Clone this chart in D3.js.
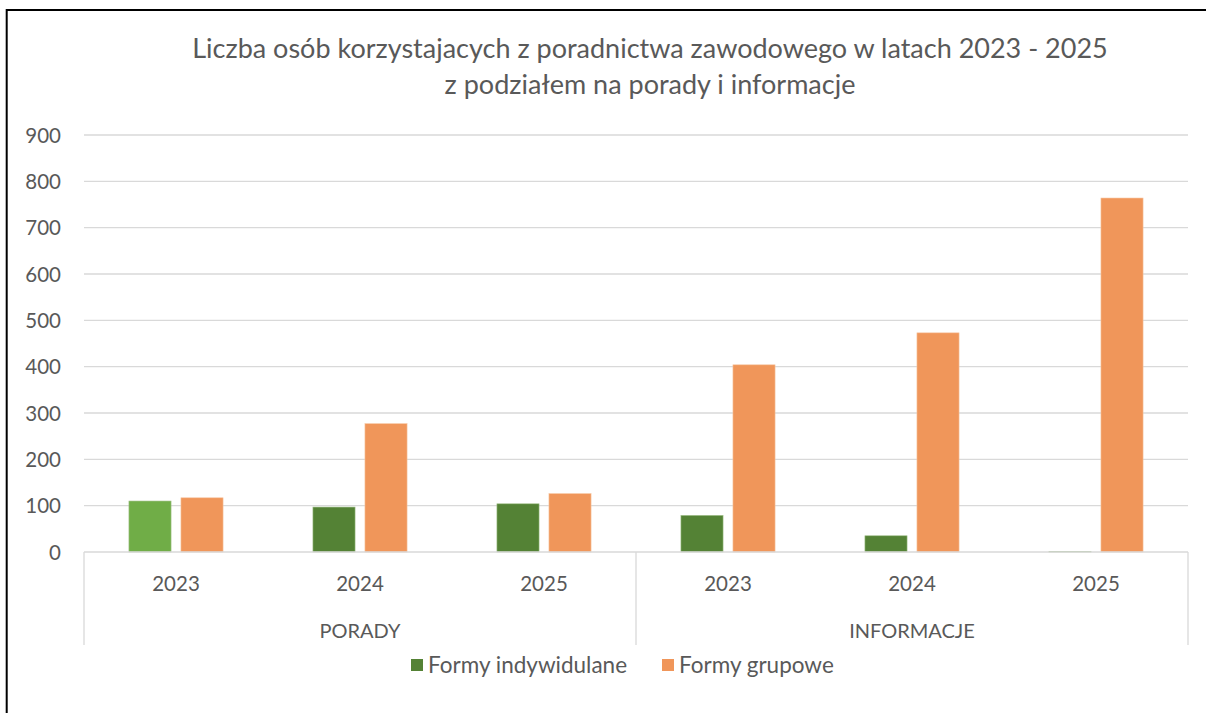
<!DOCTYPE html>
<html><head><meta charset="utf-8">
<script src="https://cdn.jsdelivr.net/npm/d3@7"></script>
<style>body{margin:0;background:#fff}svg{display:block}</style>
</head><body><svg id="c" width="1206" height="713"></svg>
<script>
const groups = ["PORADY", "INFORMACJE"];
const years = ["2023", "2024", "2025"];
const seriesNames = ["Formy indywidulane", "Formy grupowe"];
const indywidualne = [110, 97, 104, 79, 35, 1];
const grupowe = [117, 277, 126, 404, 473, 764];
const yTicks = [0, 100, 200, 300, 400, 500, 600, 700, 800, 900];
const titleLines = ["Liczba osób korzystajacych z poradnictwa zawodowego w latach 2023 - 2025", "z podziałem na porady i informacje"];

const svg = d3.select("#c");
const font = "Lato, 'Open Sans', sans-serif";
const txt = "#595959";
const L = 84, R = 1188, T = 135, B = 552;

svg.append("rect").attr("x",6.7).attr("y",10).attr("width",1260).attr("height",760)
  .attr("fill","#fff").attr("stroke","#000").attr("stroke-width",2);

const cats = [];
groups.forEach(g => years.forEach(y => cats.push(g + "|" + y)));
const data = cats.map((c,i) => ({cat:c, vals:[indywidualne[i], grupowe[i]]}));

const x0 = d3.scaleBand().domain(cats).range([L,R]).padding(0);
const x1 = d3.scaleBand().domain(seriesNames).range([0,x0.bandwidth()]).paddingInner(0.19).paddingOuter(0.864);
const y = d3.scaleLinear().domain([0,900]).range([B,T]);

// gridlines
svg.append("g").selectAll("line").data(yTicks.filter(t=>t>0)).join("line")
  .attr("x1",L).attr("x2",R).attr("y1",d=>y(d)).attr("y2",d=>y(d))
  .attr("stroke","#d9d9d9").attr("stroke-width",1.3);

// y axis labels
const yAxis = d3.axisLeft(y).tickValues(yTicks).tickSize(0).tickPadding(0);
const ya = svg.append("g").attr("transform","translate(61,0)").call(yAxis);
ya.select(".domain").remove();
ya.selectAll("text").attr("font-family",font).attr("font-size",20.5).attr("fill",txt).attr("dy","0.35em");

// bars
const colors = (s,i) => s===0 ? (i===0 ? "#70AD47" : "#548235") : "#F0965A";
const bg = svg.append("g").selectAll("g").data(data).join("g")
  .attr("transform",d=>`translate(${x0(d.cat)},0)`);
bg.selectAll("rect").data((d,i)=>d.vals.map((v,s)=>({v,s,i}))).join("rect")
  .attr("x",d=>x1(seriesNames[d.s])).attr("width",x1.bandwidth())
  .attr("y",d=>y(d.v)).attr("height",d=>Math.max(0,B-y(d.v)))
  .attr("fill",d=>colors(d.s,d.i))
  .attr("stroke",d=>d.s===1?"#f7c7a3":"#9fbf88").attr("stroke-width",0.6);

// x axis line
svg.append("line").attr("x1",L).attr("x2",R).attr("y1",B).attr("y2",B).attr("stroke","#d9d9d9").attr("stroke-width",1.3);
// group separators
const sepX = [L, x0(cats[3]), R];
svg.append("g").selectAll("line").data(sepX).join("line")
  .attr("x1",d=>d).attr("x2",d=>d).attr("y1",B).attr("y2",645)
  .attr("stroke","#d9d9d9").attr("stroke-width",1.3);

// year labels
svg.append("g").selectAll("text").data(cats).join("text")
  .attr("x",d=>x0(d)+x0.bandwidth()/2).attr("y",591).attr("text-anchor","middle")
  .attr("font-family",font).attr("font-size",20.5).attr("fill",txt).text(d=>d.split("|")[1]);
// group labels
svg.append("g").selectAll("text").data(groups).join("text")
  .attr("x",(d,i)=>(x0(cats[i*3]) + x0(cats[i*3+2]) + x0.bandwidth())/2).attr("y",638).attr("text-anchor","middle")
  .attr("font-family",font).attr("font-size",20).attr("fill",txt).text(d=>d);

// title
svg.append("g").selectAll("text").data(titleLines).join("text")
  .attr("x",650).attr("y",(d,i)=>58+i*36).attr("text-anchor","middle")
  .attr("font-family",font).attr("font-size",27).attr("fill",txt).text(d=>d);

// legend
const lg = svg.append("g");
const legX = [411, 662];
seriesNames.forEach((n,i)=>{
  lg.append("rect").attr("x",legX[i]).attr("y",659).attr("width",12).attr("height",12).attr("fill", i===0?"#548235":"#F0965A");
  lg.append("text").attr("x",legX[i]+17).attr("y",673).attr("font-family",font).attr("font-size",22.5).attr("fill",txt).text(n);
});
</script></body></html>
